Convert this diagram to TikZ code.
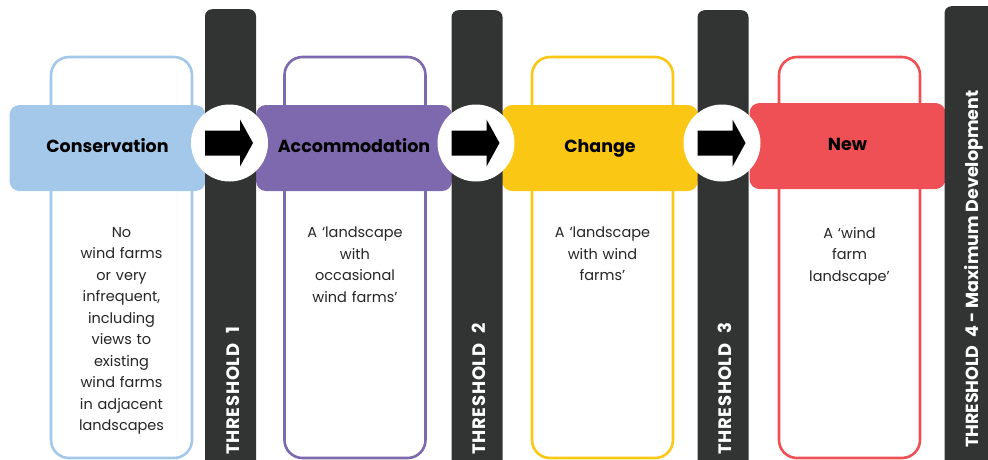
\documentclass[tikz,border=0pt]{standalone}
\usepackage{fontspec}
\setmainfont{Poppins}
\newfontfamily\barfont[LetterSpace=4]{Poppins}
\usepackage{xcolor}
\usetikzlibrary{positioning}

\definecolor{consBlue}{HTML}{A3C8EA}
\definecolor{accPurple}{HTML}{7E69AE}
\definecolor{chgYellow}{HTML}{FAC814}
\definecolor{newRed}{HTML}{EF5055}
\definecolor{barGrey}{HTML}{323433}

\begin{document}
\begin{tikzpicture}[
				x=1pt, y=-1pt,
				% Node styles
				bar/.style={
					rectangle, rounded corners=7pt,
					fill=barGrey, anchor=north,
					minimum width=51pt, minimum height=480pt, inner sep=0pt
				},
				frame/.style={
					rectangle, rounded corners=18pt,
					draw=#1, line width=2.6pt, fill=white,
					minimum width=141pt, minimum height=401pt, inner sep=0pt
				},
				band/.style={
					rectangle, rounded corners=10pt,
					fill=#1, text=black,
					minimum width=196pt, minimum height=86pt, inner sep=0pt,
					text height=12.5pt, text depth=3.5pt,
					font=\fontsize{17.5}{20}\selectfont\bfseries
				},
				ring/.style={
					circle, fill=white,
					minimum size=77pt, inner sep=0pt
				},
				desc/.style={
					anchor=north, text width=135pt, align=center,
					inner sep=0pt, text=black!85,
					font=\fontsize{14.5}{21.5}\selectfont
				},
				tlabel/.style={
					rotate=90, anchor=west, text=white, inner sep=0pt,
					font=\barfont\fontsize{18}{20}\selectfont\bfseries
				},
				maxlabel/.style={
					tlabel, font=\fontsize{17.5}{20}\selectfont\bfseries
				},
				pointer/.style={fill=black}
				]
				
				\useasboundingbox (0,0) rectangle (988,459);
				\clip (0,0) rectangle (988,459);
				
				%% ─── STAGE FRAMES ────────────────────────────────────────────
				\node[frame=consBlue]   (b1) at (121.5,257.5) {};
				\node[frame=accPurple]  (b2) at (355,257.5)   {};
				\node[frame=chgYellow]  (b3) at (602.5,257.5) {};
				\node[frame=newRed]     (b4) at (849.5,257.5) {};
				
				%% ─── STAGE HEADERS ───────────────────────────────────────────
				\node[band=consBlue]  (h1) at (107.5,148) {Conservation};
				\node[band=accPurple] (h2) at (354,148)   {Accommodation};
				\node[band=chgYellow] (h3) at (600,148)   {Change};
				\node[band=newRed]    (h4) at (847.5,146) {New};
				
				%% ─── THRESHOLD BARS ──────────────────────────────────────────
				\node[bar] (t1) at (230.5,9) {};
				\node[bar] (t2) at (477,10)  {};
				\node[bar] (t3) at (723,10)  {};
				\node[bar] (t4) at (970,6)   {};
				
				\node[tlabel] (l1) at (233,455) {THRESHOLD\hspace{6pt} 1};
				\node[tlabel] (l2) at (479,455) {THRESHOLD\hspace{6pt} 2};
				\node[tlabel] (l3) at (725,455) {THRESHOLD\hspace{6pt} 3};
				\node[maxlabel] (l4) at (974,448) {THRESHOLD\hspace{4pt} 4 - Maximum Development};
				
				%% ─── STEP ARROWS ─────────────────────────────────────────────
				\node[ring] (c1) at (229.5,143) {};
				\node[ring] (c2) at (476,143)   {};
				\node[ring] (c3) at (722,143)   {};
				
				\fill[pointer] ([shift={(-24.5,-12.5)}]c1.center) -- ++(35,0) -- ++(0,-11)
				-- ++(13,23.5) -- ++(-13,23.5) -- ++(0,-11) -- ++(-35,0) -- cycle;
				\fill[pointer] ([shift={(-24.5,-12.5)}]c2.center) -- ++(35,0) -- ++(0,-11)
				-- ++(13,23.5) -- ++(-13,23.5) -- ++(0,-11) -- ++(-35,0) -- cycle;
				\fill[pointer] ([shift={(-24.5,-12.5)}]c3.center) -- ++(35,0) -- ++(0,-11)
				-- ++(13,23.5) -- ++(-13,23.5) -- ++(0,-11) -- ++(-35,0) -- cycle;
				
				%% ─── DESCRIPTIONS ────────────────────────────────────────────
				\node[desc] (d1) at (121.5,227) {No\\wind farms\\or very\\infrequent,\\including\\views to\\existing\\wind farms\\in adjacent\\landscapes};
				\node[desc] (d2) at (355,227)   {A `landscape\\with\\occasional\\wind farms'};
				\node[desc] (d3) at (602.5,227) {A `landscape\\with wind\\farms'};
				\node[desc] (d4) at (849.5,227) {A `wind\\farm\\landscape'};
				
			\end{tikzpicture}
\end{document}
